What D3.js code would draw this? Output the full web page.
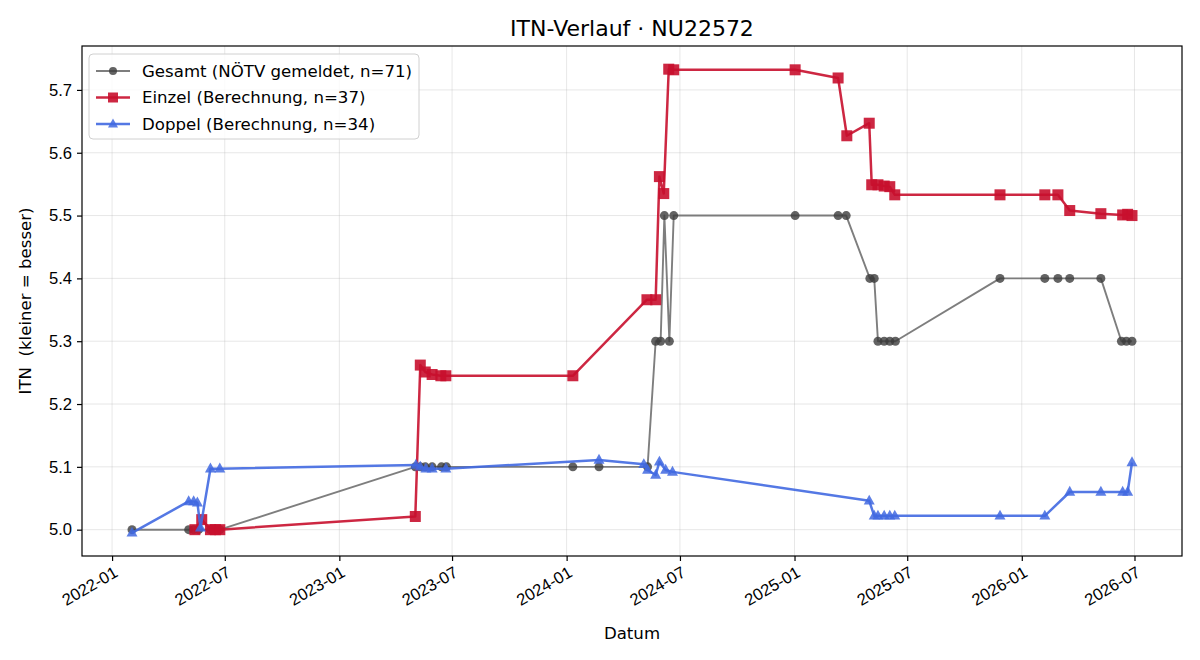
<!DOCTYPE html>
<html>
<head>
<meta charset="utf-8">
<script src="https://cdn.jsdelivr.net/npm/d3@7"></script>
<style>
  html, body { margin: 0; padding: 0; background: #fff; overflow: hidden; }
  svg { display: block; font-family: "DejaVu Sans", sans-serif; }
  .grid line { stroke: #b0b0b0; stroke-opacity: 0.3; }
</style>
</head>
<body>
<div id="chart"></div>
<script>
const gesamtDates = [
  '2022-02-02', '2022-05-04', '2022-05-12', '2022-05-20', '2022-06-08', '2022-06-23',
  '2023-05-03', '2023-05-11', '2023-05-19', '2023-05-30', '2023-06-14', '2023-06-22',
  '2024-01-11', '2024-02-22', '2024-05-10', '2024-05-23', '2024-05-31', '2024-06-06',
  '2024-06-14', '2024-06-21', '2025-01-02', '2025-03-12', '2025-03-25', '2025-05-02',
  '2025-05-09', '2025-05-15', '2025-05-25', '2025-06-03', '2025-06-12', '2025-11-27',
  '2026-02-07', '2026-02-28', '2026-03-19', '2026-05-08', '2026-06-10', '2026-06-18',
  '2026-06-27'
];
const gesamtValues = [
  5.0, 5.0, 5.0, 5.0, 5.0, 5.0,
  5.1, 5.1, 5.1, 5.1, 5.1, 5.1,
  5.1, 5.1, 5.1, 5.3, 5.3, 5.5,
  5.3, 5.5, 5.5, 5.5, 5.5, 5.4,
  5.4, 5.3, 5.3, 5.3, 5.3, 5.4,
  5.4, 5.4, 5.4, 5.4, 5.3, 5.3,
  5.3
];

const einzelDates = [
  '2022-05-14', '2022-05-25', '2022-06-08', '2022-06-16', '2022-06-23',
  '2023-05-03', '2023-05-11', '2023-05-19', '2023-05-30', '2023-06-13', '2023-06-21',
  '2024-01-11', '2024-05-09', '2024-05-23', '2024-05-29', '2024-06-05', '2024-06-13',
  '2024-06-21', '2025-01-02', '2025-03-12', '2025-03-26', '2025-05-01', '2025-05-05',
  '2025-05-15', '2025-05-25', '2025-06-03', '2025-06-11', '2025-11-27', '2026-02-07',
  '2026-02-28', '2026-03-19', '2026-05-08', '2026-06-12', '2026-06-20', '2026-06-27'
];
const einzelValues = [
  5.0, 5.016, 5.0, 5.0, 5.0,
  5.021, 5.262, 5.251, 5.247, 5.245, 5.245,
  5.245, 5.366, 5.366, 5.562, 5.535, 5.733,
  5.732, 5.732, 5.719, 5.627, 5.647, 5.549,
  5.549, 5.547, 5.546, 5.533, 5.533, 5.533,
  5.533, 5.508, 5.503, 5.501, 5.502, 5.5
];

const doppelDates = [
  '2022-02-02', '2022-05-04', '2022-05-12', '2022-05-18', '2022-05-23', '2022-06-08',
  '2022-06-23', '2023-05-04', '2023-05-11', '2023-05-20', '2023-05-30', '2023-06-21',
  '2024-02-22', '2024-05-04', '2024-05-10', '2024-05-23', '2024-05-29', '2024-06-08',
  '2024-06-19', '2025-05-01', '2025-05-09', '2025-05-15', '2025-05-25', '2025-06-03',
  '2025-06-11', '2025-11-27', '2026-02-07', '2026-03-19', '2026-05-08', '2026-06-12',
  '2026-06-20', '2026-06-27'
];
const doppelValues = [
  4.995, 5.045, 5.045, 5.043, 5.003, 5.097,
  5.097, 5.103, 5.1, 5.097, 5.097, 5.097,
  5.111, 5.104, 5.095, 5.087, 5.108, 5.095,
  5.092, 5.046, 5.022, 5.022, 5.022, 5.022,
  5.022, 5.022, 5.022, 5.06, 5.06, 5.06,
  5.06, 5.107
];

const seriesLabels = [
  'Gesamt (NÖTV gemeldet, n=71)',
  'Einzel (Berechnung, n=37)',
  'Doppel (Berechnung, n=34)'
];
const yTicks = [5.0, 5.1, 5.2, 5.3, 5.4, 5.5, 5.6, 5.7];

const width = 1200;
const height = 660;
const margin = { top: 46, right: 18, bottom: 104, left: 82 };
const innerWidth = width - margin.left - margin.right;
const innerHeight = height - margin.top - margin.bottom;
const fontSize = 16.6;

const parse = d3.utcParse('%Y-%m-%d');
const toPoints = (dates, values) => dates.map((d, i) => ({ date: parse(d), value: values[i] }));

const series = [
  { label: seriesLabels[0], points: toPoints(gesamtDates, gesamtValues),
    line: '#707070', marker: '#3c3c3c', markerOpacity: 0.8, lineWidth: 1.9, shape: 'circle' },
  { label: seriesLabels[1], points: toPoints(einzelDates, einzelValues),
    line: '#c8102e', marker: '#c8102e', markerOpacity: 0.9, lineWidth: 2.5, shape: 'square' },
  { label: seriesLabels[2], points: toPoints(doppelDates, doppelValues),
    line: '#4169e1', marker: '#4169e1', markerOpacity: 0.85, lineWidth: 2.5, shape: 'triangle' }
];

const allPoints = series.flatMap(s => s.points);
const pad = (lo, hi) => { const m = (hi - lo) * 0.05; return [lo - m, hi + m]; };

const xExtent = d3.extent(allPoints, d => +d.date);
const x = d3.scaleUtc()
  .domain(pad(xExtent[0], xExtent[1]).map(t => new Date(t)))
  .range([0, innerWidth]);

const yExtent = d3.extent(allPoints, d => d.value);
const y = d3.scaleLinear()
  .domain(pad(yExtent[0], yExtent[1]))
  .range([innerHeight, 0]);

const svg = d3.select('#chart')
  .append('svg')
  .attr('width', width)
  .attr('height', height);

const g = svg.append('g')
  .attr('transform', `translate(${margin.left}, ${margin.top})`);

const xTickValues = d3.utcMonth.every(6).range(x.domain()[0], x.domain()[1]);

// grid
const grid = g.append('g').attr('class', 'grid');
grid.selectAll('line.vx')
  .data(xTickValues)
  .join('line')
  .attr('x1', d => x(d)).attr('x2', d => x(d))
  .attr('y1', 0).attr('y2', innerHeight);
grid.selectAll('line.hy')
  .data(yTicks)
  .join('line')
  .attr('x1', 0).attr('x2', innerWidth)
  .attr('y1', d => y(d)).attr('y2', d => y(d));

// axes
const xAxis = g.append('g')
  .attr('transform', `translate(0, ${innerHeight})`)
  .call(d3.axisBottom(x).tickValues(xTickValues).tickSize(5).tickPadding(6)
    .tickFormat(d3.utcFormat('%Y-%m')));
xAxis.select('.domain').remove();
xAxis.selectAll('text')
  .attr('font-size', fontSize)
  .attr('fill', '#000')
  .attr('text-anchor', 'end')
  .attr('dy', '0.71em')
  .attr('transform', 'translate(-5, 0) rotate(-30)');
xAxis.selectAll('line').attr('stroke', '#000').attr('stroke-width', 1.2);

const yAxis = g.append('g')
  .call(d3.axisLeft(y).tickValues(yTicks).tickSize(5).tickPadding(5)
    .tickFormat(d3.format('.1f')));
yAxis.select('.domain').remove();
yAxis.selectAll('text').attr('font-size', fontSize).attr('fill', '#000');
yAxis.selectAll('line').attr('stroke', '#000').attr('stroke-width', 1.2);

// series
const line = d3.line().x(d => x(d.date)).y(d => y(d.value));

function drawMarker(sel, shape, size) {
  if (shape === 'circle') {
    sel.append('circle').attr('r', size / 2);
  } else if (shape === 'square') {
    sel.append('rect').attr('x', -size / 2).attr('y', -size / 2)
      .attr('width', size).attr('height', size);
  } else {
    const h = size * 0.9;
    sel.append('path').attr('d', `M0,${-h * 0.62}L${size / 2},${h * 0.38}L${-size / 2},${h * 0.38}Z`);
  }
}

const markerSize = { circle: 9, square: 11, triangle: 11 };

for (const s of series) {
  const sg = g.append('g');
  sg.append('path')
    .attr('d', line(s.points))
    .attr('fill', 'none')
    .attr('stroke', s.line)
    .attr('stroke-opacity', 0.9)
    .attr('stroke-width', s.lineWidth)
    .attr('stroke-linejoin', 'round');

  sg.selectAll('g.mark')
    .data(s.points)
    .join('g')
    .attr('transform', d => `translate(${x(d.date)}, ${y(d.value)})`)
    .attr('fill', s.marker)
    .attr('fill-opacity', s.markerOpacity)
    .each(function () { drawMarker(d3.select(this), s.shape, markerSize[s.shape]); });
}

// frame
g.append('rect')
  .attr('width', innerWidth)
  .attr('height', innerHeight)
  .attr('fill', 'none')
  .attr('stroke', '#000')
  .attr('stroke-width', 1.2);

// legend
const legend = g.append('g').attr('transform', 'translate(7, 8)');
legend.append('rect')
  .attr('width', 330)
  .attr('height', 85)
  .attr('rx', 4)
  .attr('fill', '#fff')
  .attr('fill-opacity', 0.8)
  .attr('stroke', '#d0d0d0');

series.forEach((s, i) => {
  const row = legend.append('g').attr('transform', `translate(0, ${17 + i * 26.5})`);
  row.append('line')
    .attr('x1', 7).attr('x2', 41)
    .attr('stroke', s.line).attr('stroke-opacity', 0.9).attr('stroke-width', s.lineWidth);
  const m = row.append('g')
    .attr('transform', 'translate(24, 0)')
    .attr('fill', s.marker)
    .attr('fill-opacity', s.markerOpacity);
  drawMarker(m, s.shape, markerSize[s.shape] - 1);
  row.append('text')
    .attr('x', 53)
    .attr('dy', '0.35em')
    .attr('font-size', fontSize)
    .text(s.label);
});

// titles
svg.append('text')
  .attr('x', margin.left + innerWidth / 2)
  .attr('y', 36)
  .attr('text-anchor', 'middle')
  .attr('font-size', 22)
  .text('ITN-Verlauf · NU22572');

svg.append('text')
  .attr('x', margin.left + innerWidth / 2)
  .attr('y', 639)
  .attr('text-anchor', 'middle')
  .attr('font-size', fontSize)
  .text('Datum');

svg.append('text')
  .attr('transform', `translate(31, ${margin.top + innerHeight / 2}) rotate(-90)`)
  .attr('text-anchor', 'middle')
  .attr('font-size', fontSize)
  .style('white-space', 'pre')
  .text('ITN  (kleiner = besser)');
</script>
</body>
</html>
